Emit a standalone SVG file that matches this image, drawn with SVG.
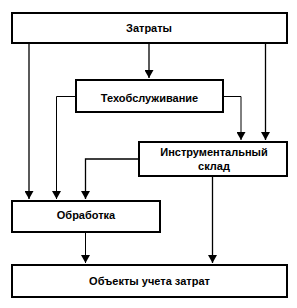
<svg xmlns="http://www.w3.org/2000/svg" width="297" height="308" viewBox="0 0 297 308">
<style>
.box{fill:#fff;stroke:#000;stroke-width:2}
.lbl{font-family:"Liberation Sans",Arial,sans-serif;font-size:11px;font-weight:bold;text-anchor:middle;fill:#000}
.c{fill:none;stroke:#000;stroke-width:1.3}
</style>
<defs>
<marker id="ah" markerUnits="userSpaceOnUse" markerWidth="9" markerHeight="9" refX="8" refY="4.5" orient="auto">
<path d="M0,0 L8,4.5 L0,9 Z" fill="#000"/>
</marker>
</defs>
<rect width="297" height="308" fill="#fff"/>
<g id="connectors">
<path class="c" d="M149,44 V78" marker-end="url(#ah)"/>
<path class="c" d="M29,44 V199" marker-end="url(#ah)"/>
<path class="c" d="M265.5,44 V140" marker-end="url(#ah)"/>
<path class="c" style="stroke-width:1" d="M75,96.5 H56.5 V199" marker-end="url(#ah)"/>
<path class="c" style="stroke-width:1" d="M223,96.5 H241 V140" marker-end="url(#ah)"/>
<path class="c" d="M139,159 H85.5 V199" marker-end="url(#ah)"/>
<path class="c" style="stroke-width:1" d="M85.5,233 V263" marker-end="url(#ah)"/>
<path class="c" d="M212.5,177 V263" marker-end="url(#ah)"/>
</g>
<g id="n-zatraty">
<rect class="box" x="12" y="13" width="275" height="30"/>
<text class="lbl" x="149" y="32">Затраты</text>
</g>
<g id="n-tech">
<rect class="box" x="76" y="80" width="147" height="32"/>
<text class="lbl" x="149.5" y="102">Техобслуживание</text>
</g>
<g id="n-sklad">
<rect class="box" x="139" y="142" width="148" height="34"/>
<text class="lbl" x="214" y="156">Инструментальный</text>
<text class="lbl" x="214" y="170">склад</text>
</g>
<g id="n-obrabotka">
<rect class="box" x="12" y="201" width="148" height="31"/>
<text class="lbl" x="86" y="219">Обработка</text>
</g>
<g id="n-obekty">
<rect class="box" x="12" y="265" width="275" height="32"/>
<text class="lbl" x="149.5" y="285">Объекты учета затрат</text>
</g>
</svg>
